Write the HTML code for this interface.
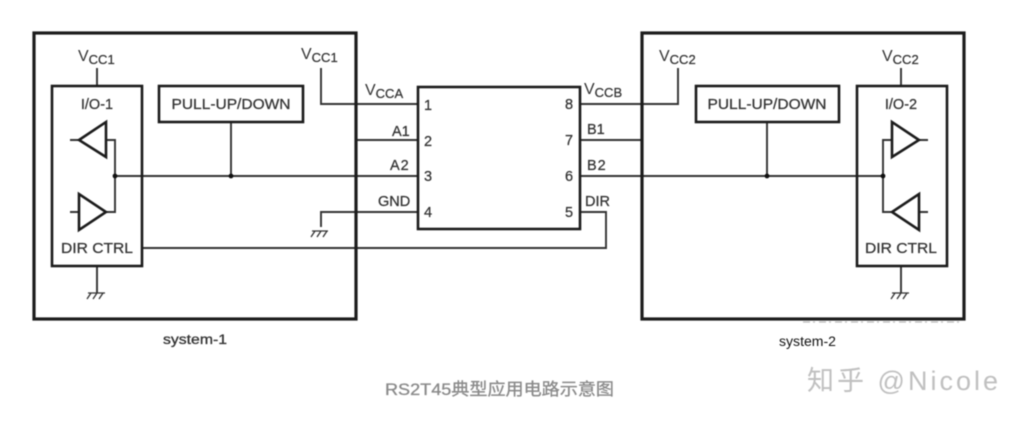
<!DOCTYPE html>
<html>
<head>
<meta charset="utf-8">
<style>
html,body{margin:0;padding:0;background:#fff;width:1024px;height:423px;overflow:hidden}
svg{display:block;filter:blur(0.4px)}
text{font-family:"Liberation Sans","Noto Sans CJK SC",sans-serif;fill:#333}
.b{fill:none;stroke:#1c1c1c;stroke-width:3.2}
.m{fill:none;stroke:#1c1c1c;stroke-width:2.6}
.l{fill:none;stroke:#333;stroke-width:1.9}
.g{fill:none;stroke:#333;stroke-width:1.3}
.t{font-size:14.5px;stroke:#333;stroke-width:.25}
.v{font-size:16px}
.s{font-size:13px;stroke:#333;stroke-width:.25}
</style>
</head>
<body>
<svg width="1024" height="423" viewBox="0 0 1024 423" xmlns="http://www.w3.org/2000/svg">
<rect width="1024" height="423" fill="#fff"/>

<!-- wires -->
<path class="l" d="M97 68V86M321 68V104H418M356 140H418M115 176H418M321 227V212H418"/>
<path class="l" d="M142 248H606V212H580M231 122V176M97 266V293"/>
<path class="l" d="M70 140H79M106 140H115V212H106M70 212H79"/>
<path class="l" d="M678 68V104H580M580 140H642M580 176H883M767 122V176M901 68V86M901 266V293"/>
<path class="l" d="M892 140H883V212H892M919 140H928M919 212H928"/>

<!-- outer boxes -->
<rect class="b" x="34" y="33" width="322" height="286"/>
<rect class="b" x="642" y="33" width="322" height="286"/>
<!-- inner boxes -->
<rect class="m" x="52" y="86" width="90" height="180"/>
<rect class="m" x="159" y="86" width="144" height="36"/>
<rect class="m" x="696" y="86" width="143" height="36"/>
<rect class="m" x="857" y="86" width="90" height="180"/>
<rect class="m" x="418" y="87" width="162" height="142"/>

<!-- buffers -->
<path class="m" d="M106 122V157L79 140ZM79 194V230L106 212Z"/>
<path class="m" d="M892 122V157L919 140ZM919 194V230L892 212Z"/>

<!-- dots -->
<circle cx="115" cy="176" r="2.4" fill="#111"/>
<circle cx="231" cy="176" r="2.4" fill="#111"/>
<circle cx="767" cy="176" r="2.4" fill="#111"/>
<circle cx="883" cy="176" r="2.4" fill="#111"/>

<!-- grounds -->
<path class="g" d="M88 293H105M91 293L87 299M97 293L93 299M103 293L99 299"/>
<path class="g" d="M312 231H328M315 231L311 237M321 231L317 237M327 231L323 237"/>
<path class="g" d="M892 293H909M895 293L891 299M901 293L897 299M907 293L903 299"/>

<!-- scan artifact under system-2 box -->
<path d="M803 322H960" stroke="#bbb" stroke-width="1.2" stroke-dasharray="7 3 2 4" fill="none"/>

<!-- VCC labels -->
<text class="v" x="78" y="61">V<tspan class="s" dy="3">CC1</tspan></text>
<text class="v" x="301" y="59">V<tspan class="s" dy="3">CC1</tspan></text>
<text class="v" x="365" y="95">V<tspan class="s" dy="3">CCA</tspan></text>
<text class="v" x="584" y="94">V<tspan class="s" dy="3">CCB</tspan></text>
<text class="v" x="659" y="61">V<tspan class="s" dy="3">CC2</tspan></text>
<text class="v" x="882" y="61">V<tspan class="s" dy="3">CC2</tspan></text>

<!-- box labels -->
<text class="t" x="97" y="109" text-anchor="middle">I/O-1</text>
<text class="t" x="231" y="109" text-anchor="middle" textLength="119" lengthAdjust="spacingAndGlyphs">PULL-UP/DOWN</text>
<text class="t" x="97" y="253" text-anchor="middle" textLength="72" lengthAdjust="spacingAndGlyphs">DIR CTRL</text>
<text class="t" x="767" y="109" text-anchor="middle" textLength="119" lengthAdjust="spacingAndGlyphs">PULL-UP/DOWN</text>
<text class="t" x="901" y="109" text-anchor="middle">I/O-2</text>
<text class="t" x="901" y="253" text-anchor="middle" textLength="72" lengthAdjust="spacingAndGlyphs">DIR CTRL</text>

<!-- pin labels -->
<text class="t" x="392" y="136">A1</text>
<text class="t" x="390" y="170" letter-spacing="1">A2</text>
<text class="t" x="378" y="206">GND</text>
<text class="t" x="587" y="134">B1</text>
<text class="t" x="587" y="170" letter-spacing="1">B2</text>
<text class="t" x="585" y="206">DIR</text>

<!-- pin numbers -->
<text class="t" x="424" y="110" font-size="15">1</text>
<text class="t" x="424" y="146">2</text>
<text class="t" x="424" y="181">3</text>
<text class="t" x="424" y="217">4</text>
<text class="t" x="565" y="109">8</text>
<text class="t" x="565" y="145">7</text>
<text class="t" x="565" y="181">6</text>
<text class="t" x="565" y="217">5</text>

<!-- captions -->
<text x="163" y="344" font-size="13.5" textLength="64" lengthAdjust="spacingAndGlyphs" stroke="#333" stroke-width="0.3">system-1</text>
<text x="779" y="346" font-size="13.5" textLength="57" lengthAdjust="spacingAndGlyphs" style="fill:#111">system-2</text>
<text x="385" y="395" font-size="17" textLength="229" lengthAdjust="spacingAndGlyphs" stroke="#8a8a8a" stroke-width="0.3" style="fill:#8a8a8a">RS2T45典型应用电路示意图</text>
<text x="807" y="390" font-size="27" textLength="191" lengthAdjust="spacing" style="fill:#c0c0c0">知乎 @Nicole</text>
</svg>
</body>
</html>
